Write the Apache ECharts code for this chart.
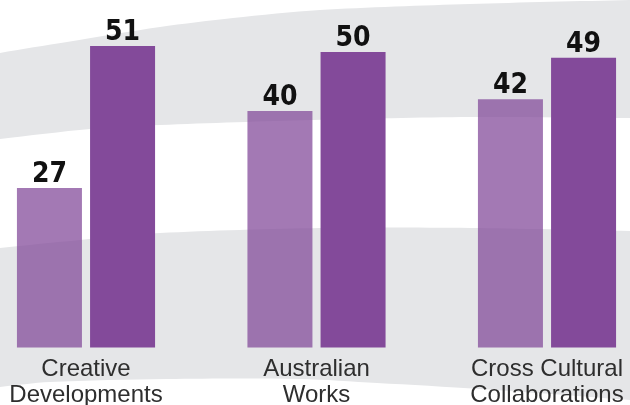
<!DOCTYPE html>
<html>
<head>
<meta charset="utf-8">
<script src="https://cdn.jsdelivr.net/npm/echarts@6/dist/echarts.min.js"></script>
<style>
html,body{margin:0;padding:0;background:#fff;}
#c{width:630px;height:405px;}
</style>
</head>
<body>
<div id="c"></div>
<script>
var categories = ['Creative\nDevelopments', 'Australian\nWorks', 'Cross Cultural\nCollaborations'];
var seriesLight = [27, 40, 42];
var seriesDark = [51, 50, 49];

var chart = echarts.init(document.getElementById('c'), null, {renderer: 'canvas'});
var gray = '#e5e6e8';
var yMax = Math.max.apply(null, seriesLight.concat(seriesDark));

var valueLabel = {
  show: true,
  position: 'top',
  distance: -1,
  color: '#111',
  fontFamily: '"Liberation Sans Narrow", "DejaVu Sans Condensed", sans-serif',
  fontWeight: 'bold',
  fontSize: 28,
  lineHeight: 28
};

chart.setOption({
  animation: false,
  backgroundColor: '#fff',
  graphic: [
    {
      type: 'polygon', z: -10, silent: true,
      shape: {
        smooth: 0.3,
        points: [[-40,62],[0,53],[67,42],[160,27],[233,18],[320,10],[470,4],[630,0],[680,-1],
                 [680,118],[630,118],[470,117],[313,120],[160,125],[90,129],[0,139],[-40,144]]
      },
      style: {fill: gray}
    },
    {
      type: 'polygon', z: -10, silent: true,
      shape: {
        smooth: 0.3,
        points: [[-40,253],[0,248],[80,240],[160,233],[320,228],[470,228],[630,231],[680,232],
                 [680,460],[-40,460]]
      },
      style: {fill: gray}
    },
    {
      type: 'polygon', z: -9, silent: true,
      shape: {
        smooth: 0.3,
        points: [[-40,392],[0,387],[50,382],[167,379],[300,379],[377,383],[480,389],[630,400],[700,406],
                 [700,460],[-40,460]]
      },
      style: {fill: '#fff'}
    }
  ],
  grid: {left: -29.25, right: -32.25, top: 46, bottom: 57.5, outerBoundsMode: 'none', containLabel: false},
  xAxis: {
    type: 'category',
    data: categories,
    axisLine: {show: false},
    axisTick: {show: false},
    axisLabel: {
      interval: 0,
      margin: 9,
      color: '#2e2e2e',
      fontFamily: '"Liberation Sans", Arial, sans-serif',
      fontSize: 24,
      lineHeight: 26
    }
  },
  yAxis: {
    type: 'value', min: 0, max: yMax, show: false,
    splitLine: {show: false}
  },
  series: [
    {
      type: 'bar', name: 'light', data: seriesLight,
      barWidth: 65, barGap: '12.5%',
      itemStyle: {color: 'rgba(131,74,154,0.74)'},
      label: valueLabel
    },
    {
      type: 'bar', name: 'dark', data: seriesDark,
      barWidth: 65,
      itemStyle: {color: '#834a9a'},
      label: valueLabel
    }
  ]
});
</script>
</body>
</html>
